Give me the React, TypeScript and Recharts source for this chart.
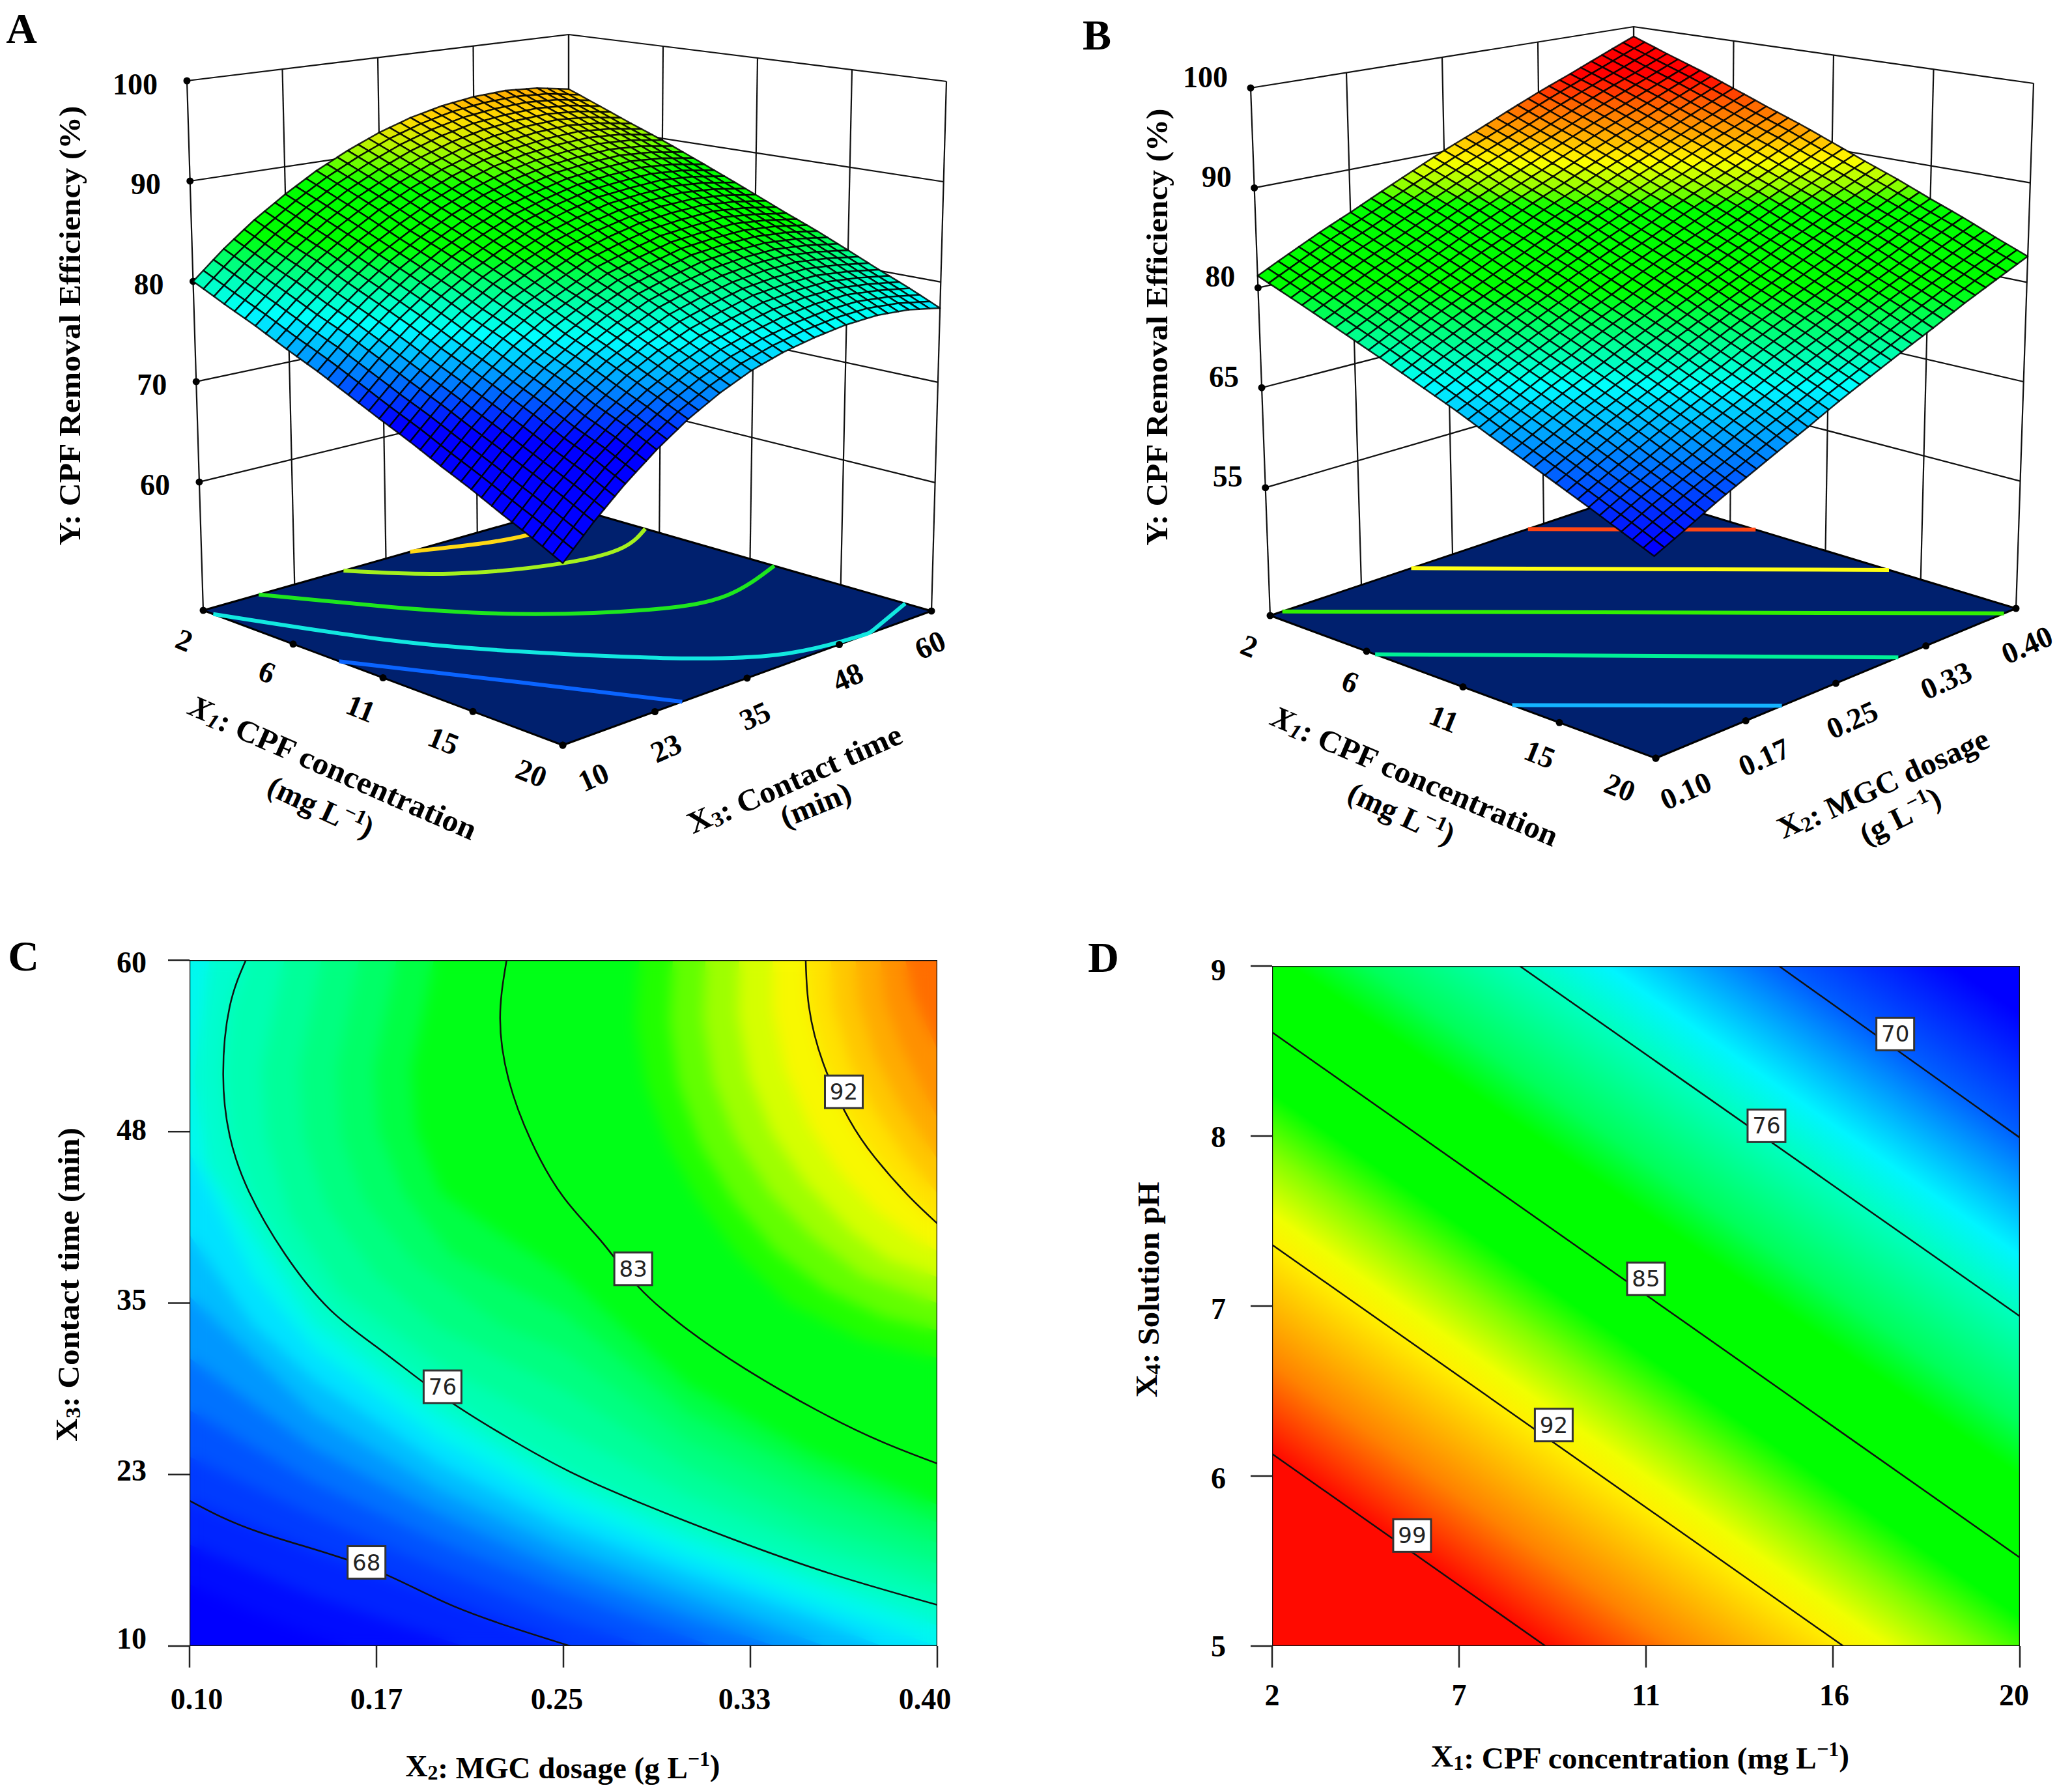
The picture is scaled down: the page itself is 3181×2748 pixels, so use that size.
import React from "react";
import { ComposedChart, XAxis, YAxis, Scatter, Line, Area } from "recharts";

// ---------- Values estimated by eye from the reference ----------
const x1Ticks = [2, 6.5, 11, 15.5, 20];
const x1TickLabels = ["2", "6", "11", "15", "20"];
const x3Ticks = [10, 22.5, 35, 47.5, 60];
const x3TickLabels = ["10", "23", "35", "48", "60"];
const x2Ticks = [0.1, 0.175, 0.25, 0.325, 0.4];
const x2TickLabels = ["0.10", "0.17", "0.25", "0.33", "0.40"];
const heightTicks = [100, 90, 80, 70, 60];
const heightLabelsA = ["100", "90", "80", "70", "60"];
const heightLabelsB = ["100", "90", "80", "65", "55"];
const phTicks = [5, 6, 7, 8, 9];
const x1TicksD = [2, 6.5, 11, 15.5, 20];
const x1TickLabelsD = ["2", "7", "11", "16", "20"];

// rows: X1 from 2 to 20; columns: X3 from 10 to 60
const surfaceA = [
  [80.0, 82.7, 85.1, 87.2, 89.1, 90.7, 92.1, 93.2, 94.0, 94.5, 94.7, 94.5, 93.9],
  [78.6, 81.3, 83.7, 85.9, 87.8, 89.4, 90.8, 91.9, 92.7, 93.1, 93.3, 93.1, 92.5],
  [77.3, 80.0, 82.5, 84.6, 86.5, 88.1, 89.5, 90.6, 91.3, 91.8, 92.0, 91.7, 91.1],
  [75.9, 78.6, 81.1, 83.3, 85.1, 86.8, 88.2, 89.3, 90.0, 90.4, 90.6, 90.4, 89.8],
  [74.6, 77.4, 79.8, 82.0, 83.9, 85.5, 86.9, 87.9, 88.7, 89.1, 89.3, 89.0, 88.4],
  [73.2, 76.0, 78.5, 80.7, 82.6, 84.2, 85.6, 86.6, 87.4, 87.7, 87.9, 87.6, 87.0],
  [71.8, 74.6, 77.1, 79.3, 81.3, 82.9, 84.3, 85.3, 86.0, 86.4, 86.5, 86.2, 85.6],
  [70.5, 73.3, 75.8, 78.1, 80.0, 81.5, 83.0, 83.9, 84.7, 85.0, 85.2, 84.8, 84.2],
  [69.1, 71.9, 74.5, 76.7, 78.6, 80.3, 81.7, 82.6, 83.4, 83.7, 83.8, 83.5, 82.9],
  [67.8, 70.6, 73.2, 75.5, 77.4, 79.0, 80.4, 81.3, 82.0, 82.4, 82.5, 82.1, 81.5],
  [66.4, 69.3, 71.8, 74.1, 76.1, 77.7, 79.0, 79.9, 80.7, 81.0, 81.1, 80.7, 80.1],
  [65.1, 68.0, 70.6, 72.9, 74.8, 76.4, 77.7, 78.6, 79.3, 79.7, 79.8, 79.4, 78.8],
  [63.7, 66.6, 69.2, 71.5, 73.5, 75.1, 76.4, 77.3, 77.9, 78.3, 78.4, 78.1, 77.4],
];

// rows: X1 from 2 to 20; columns: X2 from 0.10 to 0.40
const surfaceB = [
  [81.2, 82.7, 84.2, 85.6, 87.1, 88.6, 90.1, 91.5, 93.0, 94.5, 95.9, 97.4, 98.9],
  [79.9, 81.4, 82.9, 84.3, 85.8, 87.3, 88.8, 90.2, 91.6, 93.1, 94.6, 96.0, 97.5],
  [78.6, 80.1, 81.6, 83.0, 84.5, 86.0, 87.4, 88.8, 90.3, 91.8, 93.2, 94.7, 96.2],
  [77.3, 78.8, 80.3, 81.7, 83.2, 84.6, 86.1, 87.5, 89.0, 90.4, 91.8, 93.3, 94.8],
  [76.0, 77.5, 79.0, 80.4, 81.8, 83.3, 84.8, 86.2, 87.6, 89.0, 90.5, 91.9, 93.4],
  [74.7, 76.2, 77.6, 79.1, 80.5, 82.0, 83.4, 84.8, 86.3, 87.7, 89.1, 90.6, 92.1],
  [73.4, 74.8, 76.3, 77.7, 79.2, 80.6, 82.1, 83.5, 84.9, 86.4, 87.8, 89.2, 90.7],
  [72.0, 73.5, 75.0, 76.4, 77.9, 79.3, 80.8, 82.2, 83.6, 85.0, 86.5, 87.9, 89.3],
  [70.7, 72.2, 73.7, 75.1, 76.5, 78.0, 79.4, 80.8, 82.2, 83.7, 85.1, 86.5, 88.0],
  [69.4, 70.9, 72.4, 73.8, 75.2, 76.6, 78.1, 79.5, 80.9, 82.3, 83.8, 85.2, 86.6],
  [68.1, 69.6, 71.0, 72.5, 73.9, 75.3, 76.8, 78.2, 79.6, 81.0, 82.4, 83.9, 85.3],
  [66.8, 68.3, 69.7, 71.1, 72.6, 74.0, 75.4, 76.8, 78.2, 79.7, 81.1, 82.5, 83.9],
  [65.5, 66.9, 68.4, 69.8, 71.2, 72.6, 74.1, 75.5, 76.9, 78.3, 79.8, 81.2, 82.6],
];

// floor contours, [X1, X3]
const floorA1: number[][] = [[8.8, 10], [14.5, 18.8], [20, 26.2]];
const floorA2: number[][] = [[2.5, 10], [8.4, 17.9], [12.3, 24.9], [16, 32.6], [19.1, 41.5], [19.9, 50], [19.8, 52.8], [18.7, 60]];
const floorA3: number[][] = [[2, 17.6], [5.9, 24.8], [9.5, 32.6], [12.4, 42.4], [13.3, 50.5], [12.2, 60]];
const floorA4: number[][] = [[2, 29.2], [4.8, 36.7], [6.6, 46.7], [6.8, 54.2], [5.8, 60]];
const floorA5: number[][] = [[2, 38.3], [2.8, 43.8], [3.4, 50.3], [3.1, 57.5]];
// floor contours, [X1, X2]
const floorB1: number[][] = [[13.3, 0.1], [20, 0.205]];
const floorB2: number[][] = [[6.9, 0.1], [20, 0.302]];
const floorB3: number[][] = [[2, 0.11], [20, 0.39]];
const floorB4: number[][] = [[2, 0.216], [14, 0.4]];
const floorB5: number[][] = [[2, 0.312], [7.7, 0.4]];

// C: contour lines [X2, X3]
const lineC68: number[][] = [[0.1, 20.6], [0.128, 18.3], [0.171, 15.8], [0.206, 12.9], [0.2527, 10]];
const lineC76: number[][] = [[0.1226, 60], [0.1161, 56.6], [0.1135, 51.7], [0.1161, 47.2], [0.1239, 43.1], [0.1382, 38.6], [0.1565, 34.5], [0.1773, 31.5], [0.2015, 28.2], [0.2267, 25.3], [0.2527, 22.7], [0.284, 20.2], [0.3178, 17.8], [0.3568, 15.3], [0.4, 13]];
const lineC83: number[][] = [[0.2272, 60], [0.2246, 55.8], [0.228, 51.3], [0.2371, 46.8], [0.2501, 42.7], [0.2657, 39.4], [0.28, 36.2], [0.2996, 33.1], [0.323, 30.2], [0.3516, 27.2], [0.3776, 24.9], [0.4, 23.3]];
const lineC92: number[][] = [[0.3472, 60], [0.3485, 56.6], [0.3542, 52.5], [0.3646, 48.4], [0.375, 45.6], [0.388, 42.9], [0.4, 40.8]];

// C: colour band boundaries, level -> [X2, X3] read from the colour field
const bandsC: [number, number[][]][] = [
  [66, [[0.1, 14.5], [0.125, 12.5], [0.15, 10.8], [0.165, 10], [0.4, 10]]],
  [67, [[0.1, 17.4], [0.15, 13.6], [0.2, 10.6], [0.21, 10], [0.4, 10]]],
  [68, [[0.1, 20.6], [0.15, 16.9], [0.2, 13.6], [0.2527, 10], [0.4, 10]]],
  [69, [[0.1, 23.8], [0.15, 19.5], [0.2, 15.6], [0.25, 12], [0.283, 10], [0.4, 10]]],
  [70, [[0.1, 27.2], [0.15, 21.9], [0.2, 17.6], [0.25, 13.9], [0.31, 10], [0.4, 10]]],
  [71, [[0.1, 31], [0.15, 24.4], [0.2, 19.6], [0.25, 15.5], [0.3, 12.2], [0.335, 10], [0.4, 10]]],
  [72, [[0.1, 35.5], [0.15, 26.9], [0.2, 21.4], [0.25, 17.1], [0.3, 13.7], [0.355, 10], [0.4, 10]]],
  [73, [[0.1, 40], [0.125, 33.5], [0.15, 29.4], [0.2, 23.3], [0.25, 18.7], [0.3, 15.2], [0.35, 12], [0.378, 10], [0.4, 10]]],
  [74, [[0.1, 46], [0.125, 37], [0.15, 31.6], [0.2, 25.1], [0.25, 20.2], [0.3, 16.5], [0.35, 13.2], [0.4, 10]]],
  [75, [[0.108, 60], [0.102, 51.5], [0.107, 45], [0.125, 40], [0.15, 33.5], [0.2, 26.8], [0.25, 21.6], [0.3, 17.8], [0.35, 14.6], [0.4, 11.5]]],
  [76, lineC76],
  [77, [[0.138, 60], [0.129, 52], [0.131, 47], [0.14, 41.5], [0.16, 36], [0.2, 30.6], [0.25, 25.7], [0.3, 21], [0.35, 17.4], [0.4, 14.5]]],
  [78, [[0.153, 60], [0.144, 52], [0.146, 47], [0.155, 42], [0.175, 37], [0.2, 33.2], [0.25, 28.7], [0.3, 23], [0.35, 19], [0.4, 16]]],
  [79, [[0.168, 60], [0.159, 52], [0.161, 47], [0.17, 42.5], [0.19, 38], [0.225, 33.4], [0.25, 31.5], [0.3, 25], [0.35, 20.8], [0.4, 17.5]]],
  [80, [[0.183, 60], [0.174, 52], [0.176, 47.5], [0.186, 43], [0.205, 38.5], [0.25, 34.3], [0.3, 27], [0.35, 22.5], [0.4, 19]]],
  [81, [[0.198, 60], [0.189, 52], [0.191, 47.5], [0.201, 43], [0.225, 40], [0.25, 37.1], [0.3, 29], [0.35, 24], [0.4, 20.3]]],
  [87, [[0.2805, 60], [0.279, 55.5], [0.283, 51], [0.292, 46.5], [0.304, 42.5], [0.32, 38.5], [0.34, 35], [0.37, 32.3], [0.4, 31]]],
  [88, [[0.2939, 60], [0.2925, 55.5], [0.296, 51], [0.305, 46.5], [0.318, 42.5], [0.335, 38.8], [0.355, 36], [0.378, 34], [0.4, 33]]],
  [89, [[0.307, 60], [0.306, 55.7], [0.31, 51.2], [0.319, 47], [0.333, 43], [0.35, 39.8], [0.37, 37], [0.4, 35]]],
  [90, [[0.3205, 60], [0.32, 56], [0.3245, 51.5], [0.334, 47.3], [0.347, 43.8], [0.365, 40.3], [0.38, 38.2], [0.4, 36.9]]],
  [91, [[0.334, 60], [0.334, 56.3], [0.339, 52], [0.349, 47.8], [0.361, 44.5], [0.375, 41.8], [0.39, 39.8], [0.4, 38.8]]],
  [92, lineC92],
  [93, [[0.3572, 60], [0.3585, 56.6], [0.365, 52.5], [0.375, 49], [0.388, 45.5], [0.4, 43]]],
  [94, [[0.3672, 60], [0.3685, 57], [0.375, 53], [0.385, 49.5], [0.4, 45.5]]],
  [95, [[0.3772, 60], [0.379, 57], [0.386, 53.5], [0.4, 48.5]]],
  [96, [[0.3872, 60], [0.39, 57.5], [0.4, 53.5]]],
];

const labelsC: [string, number, number][] = [["92", 0.3625, 50.4], ["83", 0.278, 37.5], ["76", 0.2015, 28.9], ["68", 0.171, 16.1]];

// D: contour lines [X1, pH]
const linesD: [number, number[][]][] = [
  [70, [[14.2, 9], [20, 7.99]]],
  [76, [[7.96, 9], [20, 6.94]]],
  [85, [[2, 8.61], [20, 5.52]]],
  [92, [[2, 7.36], [15.75, 5]]],
  [99, [[2, 6.13], [8.58, 5]]],
];
const labelsD: [string, number, number][] = [["70", 17, 8.6], ["76", 13.9, 8.06], ["85", 11, 7.16], ["92", 8.78, 6.3], ["99", 5.37, 5.65]];

// ---------- Colour ramps ----------
type Stop = [number, number, number, number];
const rampA: Stop[] = [[71.6, 0, 0, 255], [73, 0, 50, 255], [74.7, 0, 120, 255], [76.5, 0, 190, 255], [78.3, 0, 255, 255], [80.2, 0, 255, 190], [82.1, 0, 255, 100], [83.8, 0, 255, 0], [88.2, 0, 255, 0], [90, 120, 255, 0], [91.5, 200, 240, 0], [93, 255, 220, 0], [94.7, 255, 170, 0]];
const rampB: Stop[] = [[66, 0, 0, 255], [68.6, 0, 60, 255], [71, 0, 130, 255], [73.4, 0, 200, 255], [75, 0, 255, 255], [77, 0, 255, 170], [79, 0, 255, 90], [80.8, 0, 255, 0], [86.3, 0, 255, 0], [87.4, 130, 255, 0], [89.4, 255, 255, 0], [91.4, 255, 170, 0], [93.6, 255, 100, 0], [95.8, 255, 0, 0]];
const rampCD: Stop[] = [[66, 0, 0, 255], [70, 0, 95, 255], [74, 0, 245, 255], [76, 0, 255, 190], [80, 0, 255, 90], [82, 0, 255, 0], [87, 0, 255, 0], [89, 130, 255, 0], [91, 240, 255, 0], [92, 255, 240, 0], [96, 255, 130, 0], [99, 255, 10, 0]];

function colorAt(ramp: Stop[], v: number) {
  const first = ramp[0], last = ramp[ramp.length - 1];
  let c: number[] = v <= first[0] ? first.slice(1) : v >= last[0] ? last.slice(1) : [];
  if (!c.length) {
    for (let i = 0; i < ramp.length - 1; i++) {
      const a = ramp[i], b = ramp[i + 1];
      if (v >= a[0] && v <= b[0]) {
        const t = (v - a[0]) / (b[0] - a[0]);
        c = [1, 2, 3].map((j) => a[j] + (b[j] - a[j]) * t);
        break;
      }
    }
  }
  return `rgb(${c.map((n) => Math.round(n)).join(",")})`;
}

const SERIF = "'Liberation Serif', serif";
const asPts = (a: number[][]) => a.map(([x, y]) => ({ x, y }));

function Txt({ x, y, rot = 0, size = 46, len, anchor = "middle", children, color = "#000" }: any) {
  return (
    <text x={x} y={y} transform={rot ? `rotate(${rot} ${x} ${y})` : undefined} textAnchor={anchor} dominantBaseline="central"
      fontFamily={SERIF} fontWeight="bold" fontSize={size} fill={color} textLength={len} lengthAdjust={len ? "spacingAndGlyphs" : undefined}>
      {children}
    </text>
  );
}
const Sub = ({ a, s, rest, italic }: any) => (
  <>
    <tspan fontStyle={italic ? "italic" : undefined}>{a}</tspan>
    <tspan dy={10} fontSize="0.68em" fontStyle={italic ? "italic" : undefined}>{s}</tspan>
    <tspan dy={-7}>{rest}</tspan>
  </>
);
const Sup = ({ a, rest }: any) => (
  <>
    <tspan>{a}</tspan>
    <tspan dy={-14} fontSize="0.68em">−1</tspan>
    <tspan dy={10}>{rest}</tspan>
  </>
);

// ---------- 3D panel ----------
const lerp = (a: number, b: number, t: number) => a + (b - a) * t;
const bil = (q: any, u: number, v: number) => ({
  x: (1 - u) * (1 - v) * q.L[0] + u * (1 - v) * q.F[0] + u * v * q.R[0] + (1 - u) * v * q.K[0],
  y: (1 - u) * (1 - v) * q.L[1] + u * (1 - v) * q.F[1] + u * v * q.R[1] + (1 - u) * v * q.K[1],
});
const MESH = 3; // wireframe lines drawn per table cell when a cell is shaded

function Panel3D({ s }: any) {
  const zMin = 47.2;
  const P = (u: number, v: number, z: number) => {
    const t = (z - zMin) / (100 - zMin);
    const a = bil(s.floor, u, v), b = bil(s.top, u, v);
    return { x: lerp(a.x, b.x, t), y: lerp(a.y, b.y, t) };
  };
  const uOf = (x1: number) => (x1 - 2) / 18;
  const vOf = (w: number) => (w - s.vTicks[0]) / (s.vTicks[s.vTicks.length - 1] - s.vTicks[0]);
  const n = s.grid.length - 1;
  const cells: any[] = [];
  for (let i = 0; i < n; i++) {
    for (let j = n - 1; j >= 0; j--) {
      const g = s.grid;
      const a = P(i / n, j / n, g[i][j]);
      cells.push({ x: a.x, y: a.y, i, j });
    }
  }
  // one table cell: shaded as a small wireframe patch between its four table values
  const cellShape = (p: any) => {
    const { cx, cy, payload: d } = p;
    const g = s.grid, i = d.i, j = d.j;
    const at = (a: number, b: number) => {
      const fu = a / MESH, fv = b / MESH;
      const z = (1 - fu) * (1 - fv) * g[i][j] + fu * (1 - fv) * g[i + 1][j] + fu * fv * g[i + 1][j + 1] + (1 - fu) * fv * g[i][j + 1];
      const q = P((i + fu) / n, (j + fv) / n, z);
      return { x: cx + q.x - d.x, y: cy + q.y - d.y, z };
    };
    const out: any[] = [];
    for (let a = 0; a < MESH; a++) {
      for (let b = MESH - 1; b >= 0; b--) {
        const c = [at(a, b), at(a + 1, b), at(a + 1, b + 1), at(a, b + 1)];
        const z = (c[0].z + c[1].z + c[2].z + c[3].z) / 4;
        out.push(<polygon key={a * 10 + b} points={c.map((q) => `${q.x},${q.y}`).join(" ")} fill={colorAt(s.ramp, z)} stroke="#000" strokeOpacity={0.85} strokeWidth={2.5} strokeLinejoin="round" />);
      }
    }
    return <g>{out}</g>;
  };
  const floorShape = (p: any) => {
    const { cx, cy, payload: d } = p;
    const pts = d.poly.map((q: any) => `${cx + q.x - d.x},${cy + q.y - d.y}`).join(" ");
    return <polygon points={pts} fill="#00206e" stroke="#000" strokeWidth={3} strokeLinejoin="round" />;
  };
  const fl = s.floor;
  const floorPoly = [{ x: fl.L[0], y: fl.L[1], poly: [fl.L, fl.K, fl.R, fl.F].map((a: any) => ({ x: a[0], y: a[1] })) }];

  const walls: any[][] = [];
  const steps = [0, 0.25, 0.5, 0.75, 1];
  steps.forEach((a) => {
    walls.push([P(0, a, zMin), P(0, a, 100)]);
    walls.push([P(a, 1, zMin), P(a, 1, 100)]);
  });
  heightTicks.forEach((z) => {
    walls.push([P(0, 0, z), P(0, 1, z), P(1, 1, z)]);
  });

  const dots = [
    ...heightTicks.map((z) => P(0, 0, z)),
    ...steps.map((a) => P(a, 0, zMin)),
    ...steps.map((a) => P(1, a, zMin)),
  ];
  const dotShape = ({ cx, cy }: any) => <circle cx={cx} cy={cy} r={5.5} fill="#000" />;

  return (
    <div style={{ position: "absolute", left: s.left, top: 0 }}>
      <ComposedChart width={s.w} height={s.h} margin={{ top: 0, right: 0, bottom: 0, left: 0 }}>
        <XAxis hide type="number" dataKey="x" domain={[0, s.w]} allowDataOverflow />
        <YAxis hide type="number" dataKey="y" domain={[0, s.h]} reversed allowDataOverflow />
        {walls.map((d, i) => (
          <Line key={"w" + i} data={d} dataKey="y" type="linear" dot={false} activeDot={false} stroke="#111" strokeWidth={2.2} isAnimationActive={false} legendType="none" zIndex={100} />
        ))}
        <Scatter data={floorPoly} shape={floorShape} isAnimationActive={false} zIndex={150} />
        {s.contours.map((c: any, i: number) => (
          <Line key={"c" + i} data={c.pts.map(([a, b]: number[]) => P(uOf(a), vOf(b), zMin))} dataKey="y" type="natural" dot={false} activeDot={false} stroke={c.color} strokeWidth={6} isAnimationActive={false} legendType="none" zIndex={200} />
        ))}
        <Scatter data={dots} shape={dotShape} isAnimationActive={false} zIndex={250} />
        <Scatter data={cells} shape={cellShape} isAnimationActive={false} zIndex={300} />
        {heightTicks.map((z, i) => {
          const p = P(0, 0, z);
          return <Txt key={"z" + i} x={p.x + s.zLabel[0]} y={p.y + s.zLabel[1]} anchor="end">{s.zLabels[i]}</Txt>;
        })}
        {x1Ticks.map((t, i) => {
          const p = P(uOf(t), 0, zMin);
          return <Txt key={"u" + i} x={p.x + s.uLabel[i][0]} y={p.y + s.uLabel[i][1]} rot={22}>{x1TickLabels[i]}</Txt>;
        })}
        {s.vTicks.map((t: number, i: number) => {
          const p = P(1, vOf(t), zMin);
          return <Txt key={"v" + i} x={p.x + s.vLabel[i][0]} y={p.y + s.vLabel[i][1]} rot={-24}>{s.vTickLabels[i]}</Txt>;
        })}
        {s.titles}
      </ComposedChart>
    </div>
  );
}

const specA = {
  left: 0, w: 1560, h: 1340, grid: surfaceA, ramp: rampA,
  floor: { L: [312, 937], F: [864, 1144], R: [1430, 938], K: [873, 778] },
  top: { L: [287, 124], F: [864, 250], R: [1453, 125], K: [873, 53] },
  vTicks: x3Ticks, vTickLabels: x3TickLabels, zLabels: heightLabelsA,
  zLabel: [-45, 5],
  uLabel: [[-29, 46], [-40, 43], [-34, 47], [-45, 45], [-48, 43]],
  vLabel: [[47, 49], [17, 56], [12, 58], [13, 50], [-2, 52]],
  contours: [
    { pts: floorA1, color: "#0a64ff" }, { pts: floorA2, color: "#12e8e0" }, { pts: floorA3, color: "#1ee61e" },
    { pts: floorA4, color: "#a4f01e" }, { pts: floorA5, color: "#ffd814" },
  ],
  titles: (
    <>
      <Txt x={33} y={43} size={66}>A</Txt>
      <Txt x={107} y={500} rot={-90} size={47} len={675}>Y:  CPF Removal Efficiency (%)</Txt>
      <Txt x={512} y={1177} rot={23.7} size={47} len={478}><Sub a="X" s="1" italic rest=": CPF concentration" /></Txt>
      <Txt x={492} y={1240} rot={25} size={47} len={172}><Sup a="(mg L" rest=")" /></Txt>
      <Txt x={1219} y={1194} rot={-24} size={47} len={354}><Sub a="X" s="3" rest=": Contact time" /></Txt>
      <Txt x={1252} y={1235} rot={-22} size={47} len={113}>(min)</Txt>
    </>
  ),
};

const specB = {
  left: 1640, w: 1541, h: 1340, grid: surfaceB, ramp: rampB,
  floor: { L: [310, 945], F: [902, 1164], R: [1455, 934], K: [870, 757] },
  top: { L: [280, 135], F: [895, 269], R: [1482, 128], K: [868, 41] },
  vTicks: x2Ticks, vTickLabels: x2TickLabels, zLabels: heightLabelsB,
  zLabel: [-35, -17],
  uLabel: [[-32, 47], [-25, 47], [-29, 49], [-30, 49], [-55, 45]],
  vLabel: [[46, 50], [28, 56], [25, 56], [31, 53], [17, 56]],
  contours: [
    { pts: floorB1, color: "#14b4ff" }, { pts: floorB2, color: "#00f096" }, { pts: floorB3, color: "#32f000" },
    { pts: floorB4, color: "#ffff14" }, { pts: floorB5, color: "#ff4614" },
  ],
  titles: (
    <>
      <Txt x={44} y={53} size={66}>B</Txt>
      <Txt x={136} y={502} rot={-90} size={47} len={671}>Y:  CPF Removal Efficiency (%)</Txt>
      <Txt x={533} y={1190} rot={23} size={47} len={474}><Sub a="X" s="1" italic rest=": CPF concentration" /></Txt>
      <Txt x={511} y={1250} rot={25} size={47} len={173}><Sup a="(mg L" rest=")" /></Txt>
      <Txt x={1250} y={1201} rot={-24.5} size={47} len={350}><Sub a="X" s="2" rest=": MGC dosage" /></Txt>
      <Txt x={1278} y={1254} rot={-26} size={47} len={134}><Sup a="(g L" rest=")" /></Txt>
    </>
  ),
};

// ---------- Contour panels ----------
const Box = ({ cx, cy, payload }: any) => (
  <g>
    <rect x={cx - 29} y={cy - 25} width={58} height={50} fill="#fff" stroke="#333" strokeWidth={3} />
    <text x={cx} y={cy} textAnchor="middle" dominantBaseline="central" fontFamily="'DejaVu Sans', sans-serif" fontSize={34} fill="#222">{payload.t}</text>
  </g>
);

function makeTicks(labels: string[], nudgeX: number[], nudgeY: number[], axis: "x" | "y") {
  return ({ x, y, index }: any) =>
    axis === "x" ? (
      <Txt x={x + nudgeX[index]} y={y + nudgeY[index]}>{labels[index]}</Txt>
    ) : (
      <Txt x={x + nudgeX[index]} y={y + nudgeY[index]} anchor="end">{labels[index]}</Txt>
    );
}

const Border = ({ xd, yd }: any) => (
  <Line data={[{ x: xd[0], y: yd[0] }, { x: xd[1], y: yd[0] }, { x: xd[1], y: yd[1] }, { x: xd[0], y: yd[1] }, { x: xd[0], y: yd[0] }]} dataKey="y" type="linear" dot={false} activeDot={false} stroke="#111" strokeWidth={2.5} isAnimationActive={false} legendType="none" />
);

// colour field of C: the bands, stacked; a softened copy on top hides the steps between them
function FieldC({ w, h }: any) {
  const chart = () => (
    <ComposedChart width={w} height={h} margin={{ top: 0, right: 0, bottom: 0, left: 0 }}>
      <XAxis hide type="number" dataKey="x" domain={[0.1, 0.4]} allowDataOverflow />
      <YAxis hide type="number" dataKey="y" domain={[10, 60]} allowDataOverflow />
      <Area data={[{ x: 0.1, y: 10 }, { x: 0.4, y: 10 }]} dataKey="y" baseValue={60} type="linear" stroke="none" fill={colorAt(rampCD, 64)} fillOpacity={1} isAnimationActive={false} legendType="none" dot={false} activeDot={false} />
      {bandsC.map(([lv, pts]) => (
        <Area key={lv} data={asPts(pts)} dataKey="y" baseValue={60} type="linear" stroke="none" fill={colorAt(rampCD, lv + 0.5)} fillOpacity={1} isAnimationActive={false} legendType="none" dot={false} activeDot={false} />
      ))}
    </ComposedChart>
  );
  return (
    <>
      <div style={{ position: "absolute", left: 0, top: 0 }}>{chart()}</div>
      <div style={{ position: "absolute", left: 0, top: 0, width: w, height: h, overflow: "hidden" }}>
        <div style={{ filter: "blur(11px)", width: w, height: h }}>{chart()}</div>
      </div>
    </>
  );
}

function PanelC() {
  const w = 1560, h = 1348, l = 291, r = 1439, t = 74, b = 1127;
  const xd = [0.1, 0.4], yd = [10, 60];
  return (
    <div style={{ position: "absolute", left: 0, top: 1400, width: w, height: h }}>
      <div style={{ position: "absolute", left: l, top: t }}><FieldC w={r - l} h={b - t} /></div>
      <div style={{ position: "absolute", left: 0, top: 0 }}>
        <ComposedChart width={w} height={h} margin={{ top: t, right: w - r, bottom: 0, left: 0 }}>
          <XAxis type="number" dataKey="x" domain={xd} ticks={x2Ticks} interval={0} allowDataOverflow height={h - b} tickSize={33} tickMargin={0} axisLine={false} tickLine={{ stroke: "#222", strokeWidth: 2.5 }}
            tick={makeTicks(x2TickLabels, [11, 0, -10, -9, -19], [48, 48, 48, 48, 48], "x")} />
          <YAxis type="number" dataKey="y" domain={yd} ticks={x3Ticks} interval={0} allowDataOverflow width={l} tickSize={33} tickMargin={0} axisLine={false} tickLine={{ stroke: "#222", strokeWidth: 2.5 }}
            tick={makeTicks(x3TickLabels, [-33, -33, -33, -33, -33], [-12, -6, -5, -3, 3], "y")} />
          {[lineC68, lineC76, lineC83, lineC92].map((pts, i) => (
            <Line key={i} data={asPts(pts)} dataKey="y" type="natural" dot={false} activeDot={false} stroke="#111" strokeWidth={2.5} isAnimationActive={false} legendType="none" />
          ))}
          {Border({ xd, yd })}
          <Scatter data={labelsC.map(([t2, x, y]) => ({ t: t2, x, y }))} shape={Box} isAnimationActive={false} />
          <Txt x={36} y={67} size={66}>C</Txt>
          <Txt x={102} y={572} rot={-90} size={47} len={482}><Sub a="X" s="3" rest=": Contact time (min)" /></Txt>
          <Txt x={864} y={1311} size={47} len={483}><Sub a="X" s="2" rest=": MGC dosage (g " /><Sup a="L" rest=")" /></Txt>
        </ComposedChart>
      </div>
    </div>
  );
}

function PanelD() {
  const w = 1541, h = 1348, l = 313, r = 1461, t = 83, b = 1127;
  const xd = [2, 20], yd = [5, 9];
  const pX = (x: number) => l + ((x - 2) / 18) * (r - l);
  const pY = (y: number) => t + ((9 - y) / 4) * (b - t);
  const k = 0.7, nl = Math.hypot(k, 1);
  const sOf = (x: number, y: number) => (-k * pX(x) + pY(y)) / nl;
  const lv = linesD.map(([v, pts]) => [v, sOf(pts[0][0], pts[0][1])]);
  const sAt = (v: number) => {
    let i = 0;
    while (i < lv.length - 2 && v > lv[i + 1][0]) i++;
    const a = lv[i], c = lv[i + 1];
    return a[1] + ((v - a[0]) / (c[0] - a[0])) * (c[1] - a[1]);
  };
  const s0 = sAt(64), s1 = sAt(102);
  const cx = (l + r) / 2, cy = (t + b) / 2, sc = (-k * cx + cy) / nl;
  const at = (s: number) => [cx + (-k / nl) * (s - sc), cy + (1 / nl) * (s - sc)];
  const [gx1, gy1] = at(s0), [gx2, gy2] = at(s1);
  return (
    <div style={{ position: "absolute", left: 1640, top: 1400 }}>
      <ComposedChart width={w} height={h} margin={{ top: t, right: w - r, bottom: 0, left: 0 }}>
        <defs>
          <linearGradient id="fieldD" gradientUnits="userSpaceOnUse" x1={gx1} y1={gy1} x2={gx2} y2={gy2}>
            {rampCD.map((st) => (
              <stop key={st[0]} offset={(sAt(st[0]) - s0) / (s1 - s0)} stopColor={`rgb(${st[1]},${st[2]},${st[3]})`} />
            ))}
          </linearGradient>
        </defs>
        <XAxis type="number" dataKey="x" domain={xd} ticks={x1TicksD} interval={0} allowDataOverflow height={h - b} tickSize={33} tickMargin={0} axisLine={false} tickLine={{ stroke: "#222", strokeWidth: 2.5 }}
          tick={makeTicks(x1TickLabelsD, [0, 0, 0, 2, -9], [42, 42, 42, 42, 42], "x")} />
        <YAxis type="number" dataKey="y" domain={yd} ticks={phTicks} interval={0} allowDataOverflow width={l} tickSize={33} tickMargin={0} axisLine={false} tickLine={{ stroke: "#222", strokeWidth: 2.5 }}
          tick={makeTicks(phTicks.map(String), [-38, -38, -38, -38, -38], [0, 3, 4, 1, 6], "y")} />
        <Area data={[{ x: 2, y: 9 }, { x: 20, y: 9 }]} dataKey="y" baseValue={5} type="linear" stroke="none" fill="url(#fieldD)" fillOpacity={1} isAnimationActive={false} legendType="none" dot={false} activeDot={false} />
        {linesD.map(([v, pts]) => (
          <Line key={v} data={asPts(pts)} dataKey="y" type="linear" dot={false} activeDot={false} stroke="#111" strokeWidth={2.5} isAnimationActive={false} legendType="none" />
        ))}
        {Border({ xd, yd })}
        <Scatter data={labelsD.map(([t2, x, y]) => ({ t: t2, x, y }))} shape={Box} isAnimationActive={false} />
        <Txt x={54} y={69} size={66}>D</Txt>
        <Txt x={120} y={580} rot={-90} size={47} len={331}><Sub a="X" s="4" rest=": Solution pH" /></Txt>
        <Txt x={878} y={1296} size={47} len={642}><Sub a="X" s="1" rest=": CPF concentration (mg " /><Sup a="L" rest=")" /></Txt>
      </ComposedChart>
    </div>
  );
}

export default function App() {
  return (
    <div style={{ position: "absolute", left: 0, top: 0, width: 3181, height: 2748, background: "#fff", overflow: "hidden" }}>
      <Panel3D s={specA} />
      <Panel3D s={specB} />
      <PanelC />
      <PanelD />
    </div>
  );
}
